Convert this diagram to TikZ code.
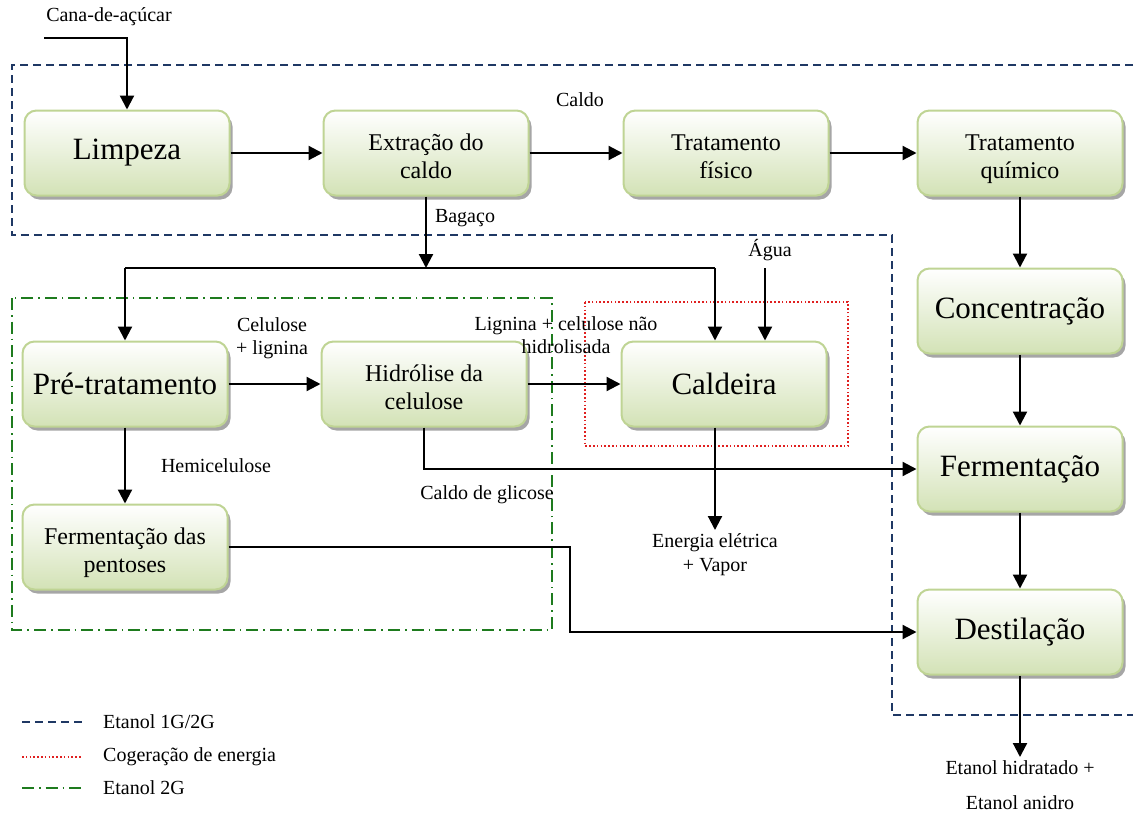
\documentclass[tikz,border=0pt]{standalone}
\usepackage{fontspec}
\setmainfont{Liberation Serif}
\usetikzlibrary{arrows.meta,shadows}
\definecolor{boxedge}{HTML}{BFD494}
\definecolor{boxfill}{HTML}{D3E2B6}
\definecolor{navy}{HTML}{1F3864}
\definecolor{darkgreen}{HTML}{1E7B1E}
\definecolor{dotred}{HTML}{E02020}
% two-line caption for a process box, set a little below the box centre
\newcommand{\twoline}[2]{\raisebox{-6pt}[\height][\depth]{\begin{tabular}{@{}c@{}}#1\\#2\end{tabular}}}
\begin{document}
\begin{tikzpicture}[x=1pt,y=-1pt,
  proc/.style={rectangle, rounded corners=12pt, draw=boxedge, line width=2pt,
    top color=white, bottom color=boxfill, minimum width=205pt, minimum height=85pt,
    align=center, inner sep=2pt,
    drop shadow={shadow xshift=3pt, shadow yshift=-4pt, fill=black!35, opacity=1}},
  big/.style={font=\fontsize{31}{36}\selectfont},
  mid/.style={font=\fontsize{24}{28}\selectfont},
  lbl/.style={font=\fontsize{20}{23}\selectfont, align=center, inner sep=3pt},
  wire/.style={line width=2.2pt},
  arr/.style={line width=2.2pt, -{Triangle[length=14pt,width=14pt]}},
  zone1/.style={draw=navy, line width=1.6pt, dash pattern=on 8pt off 5pt},
  zone2/.style={draw=dotred, line width=1.4pt, dash pattern=on 1.6pt off 2.2pt},
  zone3/.style={draw=darkgreen, line width=1.6pt, dash pattern=on 12pt off 5pt on 1.6pt off 5pt},
]
\useasboundingbox (0,0) rectangle (1134,817);

% process groups
\draw[zone1] (1133,65) -- (12,65) -- (12,235) -- (892,235) -- (892,715) -- (1133,715);
\draw[zone3] (12,298) rectangle (552,630);
\draw[zone2] (585,302) rectangle (848,446);

% process steps
\node[proc,big] (limp) at (127,153) {Limpeza};
\node[proc,mid] (extr) at (426,153) {\twoline{Extração do}{caldo}};
\node[proc,mid] (tfis) at (726,153) {\twoline{Tratamento}{físico}};
\node[proc,mid] (tqui) at (1020,153) {\twoline{Tratamento}{químico}};
\node[proc,big] (conc) at (1020,311) {Concentração};
\node[proc,big] (ferm) at (1020,469) {Fermentação};
\node[proc,big] (dest) at (1020,632) {Destilação};
\node[proc,big] (pret) at (125,384) {Pré-tratamento};
\node[proc,mid] (hidr) at (424,384) {\twoline{Hidrólise da}{celulose}};
\node[proc,big] (cald) at (724,384) {Caldeira};
\node[proc,mid] (pent) at (125,547) {\twoline{Fermentação das}{pentoses}};

% inputs and outputs
\node[lbl] (cana) at (109,17) {Cana-de-açúcar};
\coordinate (canain) at (44,38);
\draw[arr] (canain) -| (limp.north);

\draw[arr] (limp) -- (extr);
\draw[arr] (extr) -- (tfis);
\node[lbl] (caldo) at (580,100) {Caldo};
\draw[arr] (tfis) -- (tqui);
\draw[arr] (tqui) -- (conc);
\draw[arr] (conc) -- (ferm);
\draw[arr] (ferm) -- (dest);

\node[lbl, anchor=north, font=\fontsize{20}{35}\selectfont] (etout) at (1020,757) {Etanol hidratado +\\Etanol anidro};
\draw[arr] (dest) -- (etout.north);

% bagasse split
\node[lbl] (bag) at (465,218) {Bagaço};
\coordinate (bsplit) at (426,268);
\coordinate (bleft) at (125,268);
\coordinate (bright) at (715,268);
\draw[arr] (extr.south) -- (bsplit);
\draw[wire] (bleft) -- (bright);
\draw[arr] (bleft) -- (pret.north);
\draw[arr] (bright) -- (bright |- cald.north);

\node[lbl] (agua) at (770,250) {Água};
\coordinate (aguain) at (765,268);
\draw[arr] (aguain) -- (aguain |- cald.north);

% second generation route
\draw[arr] (pret) -- (hidr);
\node[lbl] (cel) at (272,338) {Celulose\\+ lignina};
\draw[arr] (hidr) -- (cald);
\node[lbl] (lig) at (566,335) {Lignina + celulose não\\hidrolisada};

\draw[arr] (pret) -- (pent);
\node[lbl] (hemi) at (216,466) {Hemicelulose};

\draw[arr] (hidr.south) |- (ferm.west);
\node[lbl] (glic) at (487,495) {Caldo de glicose};

\node[lbl, font=\fontsize{20}{24}\selectfont, anchor=north] (ener) at (715,530) {Energia elétrica\\+ Vapor};
\draw[arr] (cald.south -| ener.north) -- (ener.north);

\coordinate (p1) at (570,547);
\coordinate (p2) at (570,632);
\draw[arr] (pent.east) -- (p1) -- (p2) -- (dest.west);

% legend
\coordinate (l1a) at (22,722); \coordinate (l1b) at (82,722);
\coordinate (l2a) at (22,757); \coordinate (l2b) at (82,757);
\coordinate (l3a) at (22,788); \coordinate (l3b) at (82,788);
\draw[zone1] (l1a) -- (l1b);
\draw[zone2] (l2a) -- (l2b);
\draw[zone3] (l3a) -- (l3b);
\node[lbl, anchor=west] (leg1) at (100,722) {Etanol 1G/2G};
\node[lbl, anchor=west] (leg2) at (100,757) {Cogeração de energia};
\node[lbl, anchor=west] (leg3) at (100,788) {Etanol 2G};
\end{tikzpicture}
\end{document}
